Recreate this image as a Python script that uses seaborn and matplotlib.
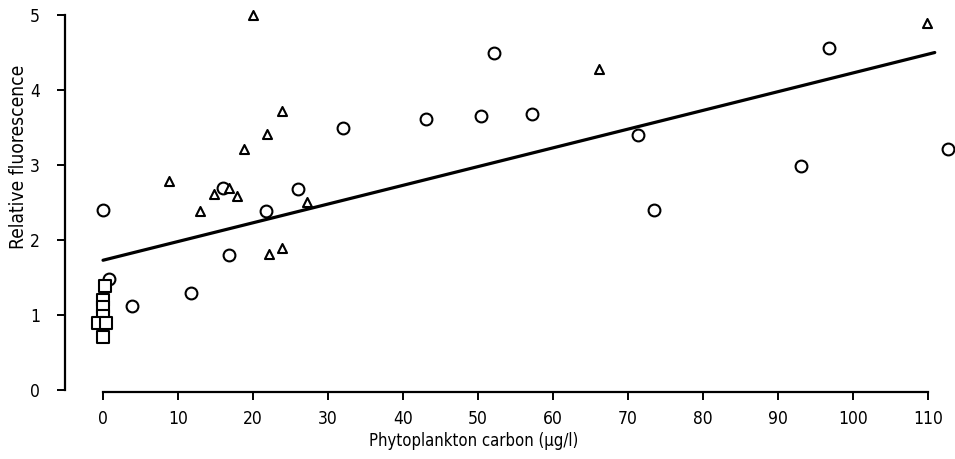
import matplotlib
matplotlib.use("Agg")
import matplotlib.pyplot as plt
import seaborn as sns
import pandas as pd
import numpy as np

# ---- data ----
circle_x = [0.0, 0.8, 3.9, 11.7, 16.0, 16.8, 21.7, 26.0, 32.0, 43.0, 50.4, 52.1, 57.2,
            71.3, 73.5, 93.0, 96.8, 112.7]
circle_y = [2.40, 1.48, 1.12, 1.29, 2.70, 1.80, 2.39, 2.68, 3.50, 3.61, 3.66, 4.49, 3.68,
            3.40, 2.40, 2.99, 4.56, 3.21]

triangle_x = [8.8, 12.9, 14.8, 16.8, 17.9, 18.8, 20.0, 21.9, 23.9, 22.1, 23.9, 27.2, 66.1, 109.8]
triangle_y = [2.79, 2.39, 2.61, 2.69, 2.59, 3.21, 5.00, 3.42, 3.72, 1.81, 1.89, 2.51, 4.28, 4.89]

square_x = [0.3, 0.0, 0.0, 0.0, -0.7, 0.4, 0.0]
square_y = [1.38, 1.20, 1.10, 0.99, 0.89, 0.89, 0.70]

fit_x = [0.0, 110.9]
fit_y = [1.73, 4.50]

x_ticks = [0, 10, 20, 30, 40, 50, 60, 70, 80, 90, 100, 110]
y_ticks = [0, 1, 2, 3, 4, 5]

x_label = "Phytoplankton carbon (\u00b5g/l)"
y_label = "Relative fluorescence"

# ---- build frame ----
df = pd.DataFrame({
    "x": circle_x + triangle_x + square_x,
    "y": circle_y + triangle_y + square_y,
    "group": ["circle"] * len(circle_x) + ["triangle"] * len(triangle_x) + ["square"] * len(square_x),
})
fit_df = pd.DataFrame({"x": fit_x, "y": fit_y})

sns.set_style("white")
plt.rcParams["font.family"] = ["DejaVu Sans"]
plt.rcParams["font.stretch"] = "condensed"

fig = plt.figure(figsize=(9.55, 4.59), dpi=100)
ax = fig.add_axes([65 / 955, 67 / 459, 890 / 955, 382 / 459])

sns.lineplot(data=fit_df, x="x", y="y", ax=ax, color="black", linewidth=2.3,
             legend=False, zorder=2)

markers = {"circle": "o", "triangle": "^", "square": "s"}
sizes = {"circle": 8.5, "triangle": 6.5, "square": 8.5}
for g, m in markers.items():
    sub = df[df["group"] == g]
    sns.scatterplot(data=sub, x="x", y="y", ax=ax, marker=m, s=sizes[g] ** 2,
                    facecolor="white", edgecolor="black", linewidth=1.5,
                    legend=False, zorder=3)

ax.set_xlim(-5.07, 113.6)
ax.set_ylim(-0.027, 5.067)

ax.spines["top"].set_visible(False)
ax.spines["right"].set_visible(False)
for s in ("left", "bottom"):
    ax.spines[s].set_linewidth(1.6)
    ax.spines[s].set_color("black")
ax.spines["left"].set_bounds(0, 5)
ax.spines["bottom"].set_bounds(0, 110)

ax.set_xticks(x_ticks)
ax.set_yticks(y_ticks)
ax.set_xticklabels([str(t) for t in x_ticks])
ax.set_yticklabels([str(t) for t in y_ticks])
ax.tick_params(axis="both", direction="out", length=6, width=1.4, color="black",
               labelsize=12.5, labelcolor="black", bottom=True, left=True)
ax.tick_params(axis="x", pad=7)
ax.tick_params(axis="y", pad=12)

ax.set_xlabel(x_label, fontsize=12, color="black")
ax.set_ylabel(y_label, fontsize=13.8, color="black")
ax.xaxis.set_label_coords(0.4596, -0.105)
ax.yaxis.set_label_coords(-0.0415, 0.615)

fig.savefig("out.png", dpi=100)
